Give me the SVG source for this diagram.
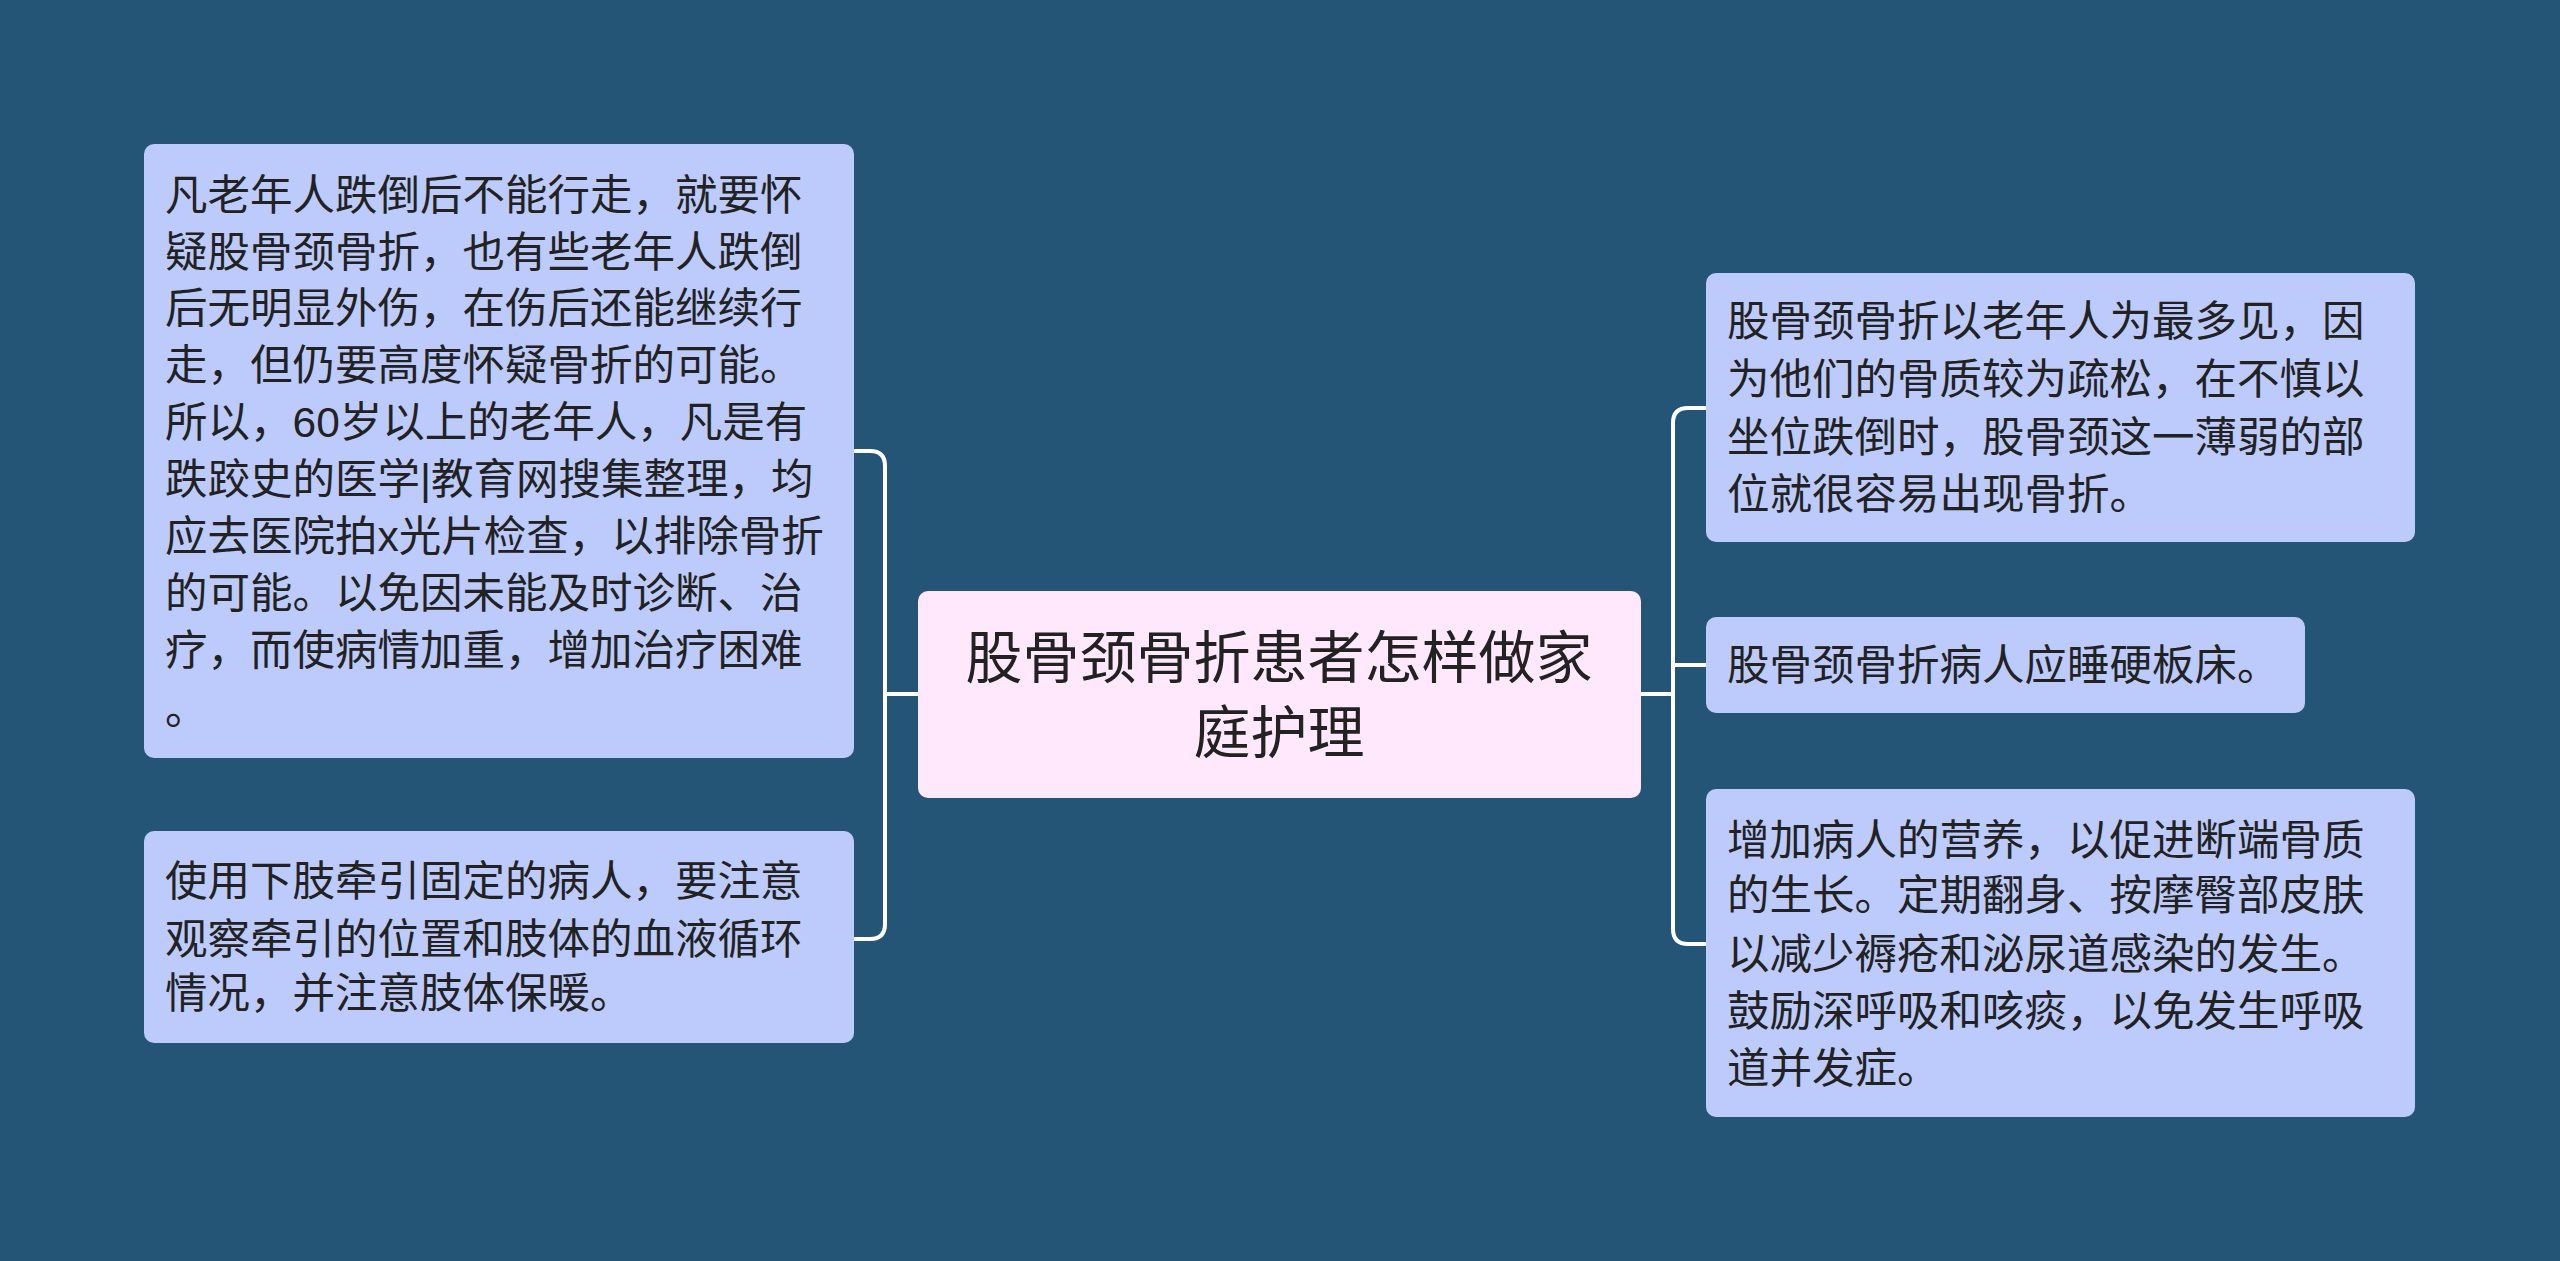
<svg xmlns="http://www.w3.org/2000/svg" width="2560" height="1261" viewBox="0 0 2560 1261">
<style>
.n{fill:#bccbfb;}
.t{font-family:"Liberation Sans","Noto Sans CJK SC",sans-serif;font-size:42.5px;fill:#222;}
.c{font-family:"Liberation Sans","Noto Sans CJK SC",sans-serif;font-size:57px;fill:#222;text-anchor:middle;}
.l{fill:none;stroke:#fff;stroke-width:4;}
</style>
<rect width="2560" height="1261" fill="#245577"/>
<g id="connectors">
<path class="l" d="M918 694 H885 M854 451 H870 Q885 451 885 466 V924 Q885 939 870 939 H854"/>
<path class="l" d="M1641 694 H1673 M1706 408 H1688 Q1673 408 1673 423 V929 Q1673 944 1688 944 H1706 M1673 665 H1706"/>
</g>
<g id="center"><rect x="918" y="591" width="723" height="207" rx="10" fill="#ffe8fb"/>
<text class="c" x="1279" y="678">股骨颈骨折患者怎样做家</text><text class="c" x="1279" y="753">庭护理</text></g>
<g id="left1"><rect class="n" x="144" y="144" width="710" height="614" rx="10"/>
<text class="t"><tspan x="165" y="210">凡老年人跌倒后不能行走，就要怀</tspan><tspan x="165" y="267">疑股骨颈骨折，也有些老年人跌倒</tspan><tspan x="165" y="323">后无明显外伤，在伤后还能继续行</tspan><tspan x="165" y="380">走，但仍要高度怀疑骨折的可能。</tspan><tspan x="165" y="437">所以，60岁以上的老年人，凡是有</tspan><tspan x="165" y="494">跌跤史的医学|教育网搜集整理，均</tspan><tspan x="165" y="551">应去医院拍x光片检查，以排除骨折</tspan><tspan x="165" y="608">的可能。以免因未能及时诊断、治</tspan><tspan x="165" y="665">疗，而使病情加重，增加治疗困难</tspan><tspan x="165" y="724">。</tspan></text></g>
<g id="left2"><rect class="n" x="144" y="831" width="710" height="212" rx="10"/>
<text class="t"><tspan x="165" y="896">使用下肢牵引固定的病人，要注意</tspan><tspan x="165" y="954">观察牵引的位置和肢体的血液循环</tspan><tspan x="165" y="1008">情况，并注意肢体保暖。</tspan></text></g>
<g id="right1"><rect class="n" x="1706" y="273" width="709" height="269" rx="10"/>
<text class="t"><tspan x="1727" y="336">股骨颈骨折以老年人为最多见，因</tspan><tspan x="1727" y="394">为他们的骨质较为疏松，在不慎以</tspan><tspan x="1727" y="452">坐位跌倒时，股骨颈这一薄弱的部</tspan><tspan x="1727" y="509">位就很容易出现骨折。</tspan></text></g>
<g id="right2"><rect class="n" x="1706" y="617" width="599" height="96" rx="10"/>
<text class="t" x="1727" y="680">股骨颈骨折病人应睡硬板床。</text></g>
<g id="right3"><rect class="n" x="1706" y="789" width="709" height="328" rx="10"/>
<text class="t"><tspan x="1727" y="855">增加病人的营养，以促进断端骨质</tspan><tspan x="1727" y="910">的生长。定期翻身、按摩臀部皮肤</tspan><tspan x="1727" y="969">以减少褥疮和泌尿道感染的发生。</tspan><tspan x="1727" y="1026">鼓励深呼吸和咳痰，以免发生呼吸</tspan><tspan x="1727" y="1083">道并发症。</tspan></text></g>
</svg>
